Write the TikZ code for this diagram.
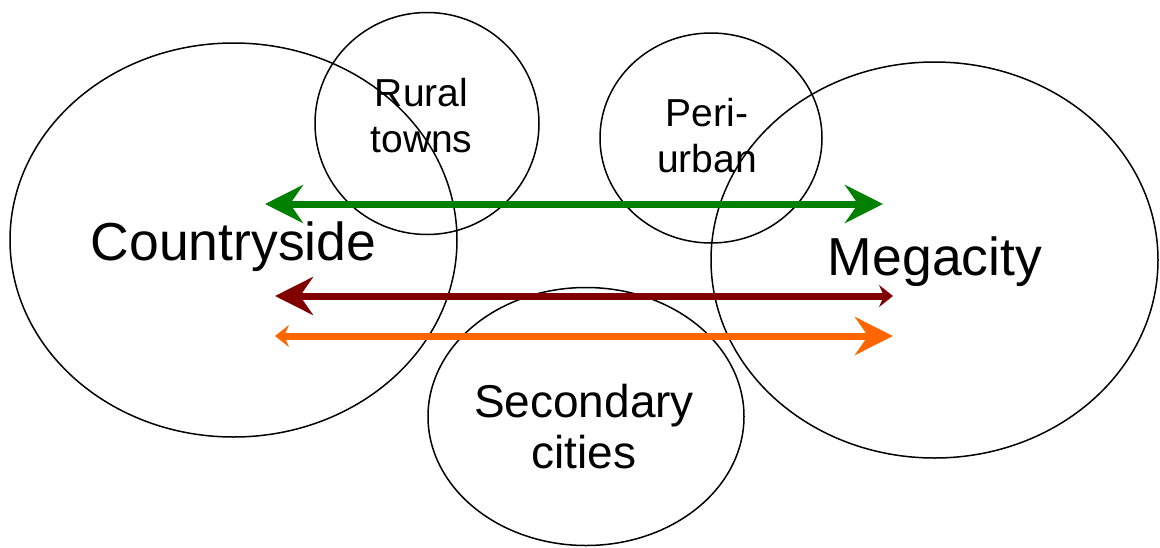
\documentclass[tikz,border=0pt]{standalone}
\usepackage{fontspec}
\setmainfont{Liberation Sans}
\usetikzlibrary{arrows.meta,shapes.geometric}
\definecolor{flowgreen}{RGB}{0,128,0}
\definecolor{flowred}{RGB}{128,0,0}
\definecolor{floworange}{RGB}{255,102,0}
\tikzset{
  place/.style={draw, ellipse, line width=1.5pt, inner sep=0pt, outer sep=0pt},
  flow/.style={line width=7pt},
  bighead/.tip={Stealth[length=38pt, width=38pt, inset=13pt]},
  smallhead/.tip={Stealth[length=14pt, width=22pt, inset=5pt]},
}
\newcommand\bigfont{\fontsize{53.5}{60}\selectfont}
\newcommand\midfont{\fontsize{46}{51}\selectfont}
\newcommand\smallfont{\fontsize{39}{46}\selectfont}

\begin{document}
\begin{tikzpicture}[x=1pt, y=-1pt]
        \useasboundingbox (0,0) rectangle (1160,547);
        % The places
        \node[place, minimum width=447pt, minimum height=394pt] (country) at (233.5,240) {};
        \node[place, minimum width=447pt, minimum height=396pt] (mega) at (934.5,260) {};
        \node[place, minimum width=224pt, minimum height=222pt] (rural) at (427,123.5) {};
        \node[place, minimum width=222pt, minimum height=210pt] (peri) at (711,138) {};
        \node[place, minimum width=316pt, minimum height=258pt] (second) at (586,416.5) {};

        % The flows
        \coordinate (greenL) at (265,204);  \coordinate (greenR) at (883,204);
        \coordinate (redL) at (275,296);    \coordinate (redR) at (893,296);
        \coordinate (orangeL) at (275,336); \coordinate (orangeR) at (893,336);
        \draw[flow, flowgreen, bighead-bighead] (greenL) -- (greenR);
        \draw[flow, flowred, bighead-smallhead] (redL) -- (redR);
        \draw[flow, floworange, smallhead-bighead] (orangeL) -- (orangeR);

        % The names (base = last line)
        \node[anchor=base, inner sep=0pt, font=\bigfont] (countrytext) at (233.5,260) {Countryside};
        \node[anchor=base, inner sep=0pt, font=\bigfont] (megatext) at (935,275) {Megacity};
        \node[anchor=base, align=center, inner sep=0pt, font=\smallfont] (ruraltext) at (421.5,152) {Rural\\towns};
        \node[anchor=base, align=center, inner sep=0pt, font=\smallfont] (peritext) at (707,172) {Peri-\\urban};
        \node[anchor=base, align=center, inner sep=0pt, font=\midfont] (secondtext) at (584,468) {Secondary\\cities};
\end{tikzpicture}
\end{document}
